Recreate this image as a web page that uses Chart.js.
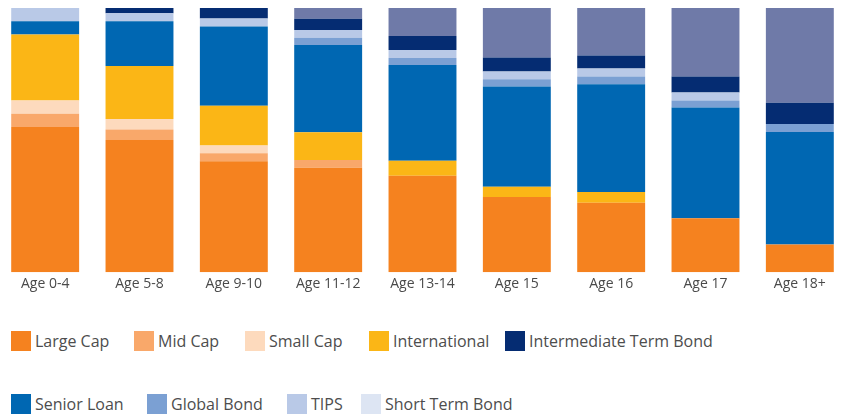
<!DOCTYPE html>
<html>
<head>
<meta charset="utf-8">
<script src="https://cdn.jsdelivr.net/npm/chart.js@4.4.1/dist/chart.umd.min.js"></script>
<style>
  html, body { margin: 0; padding: 0; background: #fff; }
  body { width: 844px; height: 418px; position: relative; overflow: hidden; font-family: "Open Sans", sans-serif; }
  #wrap { position: absolute; left: -2px; top: 0; width: 849px; height: 295px; }
  .leg { position: absolute; display: flex; align-items: center; font-size: 16px; color: #4d4d4d; white-space: nowrap; }
  .leg span.box { width: 20px; height: 20px; margin-right: 4px; display: inline-block; }
</style>
</head>
<body>
<div id="wrap"><canvas id="glideChart"></canvas></div>
<div id="legend"></div>
<script>
// age bands
const ages = ['Age 0-4', 'Age 5-8', 'Age 9-10', 'Age 11-12', 'Age 13-14', 'Age 15', 'Age 16', 'Age 17', 'Age 18+'];

// allocation (%) per age band, bottom to top of the stack
const largeCap = [55, 50, 42, 39.5, 36.5, 28.5, 26.3, 20.4, 10.5];
const midCap = [5, 4, 3, 3, 0, 0, 0, 0, 0];
const smallCap = [5, 4, 3, 0, 0, 0, 0, 0, 0];
const international = [25, 20, 15, 10.5, 5.7, 3.8, 4.1, 0, 0];
const seniorLoan = [5, 17, 30, 33, 36.2, 38, 40.7, 41.9, 42.6];
const globalBond = [0, 0, 0, 2.7, 2.7, 2.7, 3, 2.7, 3];
const tips = [5, 3, 3, 3, 3, 3, 3, 3, 0];
const shortTermBond = [0, 0, 0, 0, 0, 0, 0, 0, 0];
const intermediateTermBond = [0, 2, 4, 4.2, 5.3, 5.3, 4.9, 6.1, 8];
const other = [0, 0, 0, 4.1, 10.6, 18.7, 18, 25.9, 35.9]; // unlabelled top band

const series = [
    { label: 'Large Cap', data: largeCap, color: '#f5821f' },
    { label: 'Mid Cap', data: midCap, color: '#f9a86a' },
    { label: 'Small Cap', data: smallCap, color: '#fddabd' },
    { label: 'International', data: international, color: '#fbb616' },
    { label: 'Senior Loan', data: seniorLoan, color: '#0067b2' },
    { label: 'Global Bond', data: globalBond, color: '#7ba0d3' },
    { label: 'TIPS', data: tips, color: '#b9c9e7' },
    { label: 'Short Term Bond', data: shortTermBond, color: '#dde5f3' },
    { label: 'Intermediate Term Bond', data: intermediateTermBond, color: '#052c72' },
    { label: '', data: other, color: '#6f7aa8' }
];

// legend rows as shown under the chart
const legendRows = [
    ['Large Cap', 'Mid Cap', 'Small Cap', 'International', 'Intermediate Term Bond'],
    ['Senior Loan', 'Global Bond', 'TIPS', 'Short Term Bond']
];
const legendX = [[11, 134, 245, 369, 505], [11, 147, 287, 361]];
const legendY = [331, 394];

window.addEventListener('DOMContentLoaded', () => {
    new Chart(document.getElementById('glideChart'), {
        type: 'bar',
        data: {
            labels: ages,
            datasets: series.map(s => ({
                label: s.label,
                data: s.data,
                backgroundColor: s.color,
                borderWidth: 0,
                categoryPercentage: 1,
                barPercentage: 0.72
            }))
        },
        options: {
            responsive: true,
            maintainAspectRatio: false,
            animation: false,
            layout: { padding: { top: 8, left: 0, right: 0, bottom: 0 } },
            plugins: { legend: { display: false }, tooltip: { enabled: false } },
            scales: {
                x: {
                    stacked: true,
                    grid: { display: false, drawTicks: false },
                    border: { display: false },
                    ticks: { color: '#4a4a4a', padding: 3, font: { family: 'Open Sans', size: 14 } }
                },
                y: {
                    stacked: true,
                    display: false,
                    min: 0,
                    max: 100
                }
            }
        }
    });

    // html legend built from the series list
    const legend = document.getElementById('legend');
    legendRows.forEach((row, r) => {
        row.forEach((name, i) => {
            const s = series.find(d => d.label === name);
            const item = document.createElement('div');
            item.className = 'leg';
            item.style.left = legendX[r][i] + 'px';
            item.style.top = legendY[r] + 'px';
            item.style.height = '20px';
            item.innerHTML = '<span class="box" style="background:' + s.color + '"></span>' + name;
            legend.appendChild(item);
        });
    });
});
</script>
</body>
</html>
